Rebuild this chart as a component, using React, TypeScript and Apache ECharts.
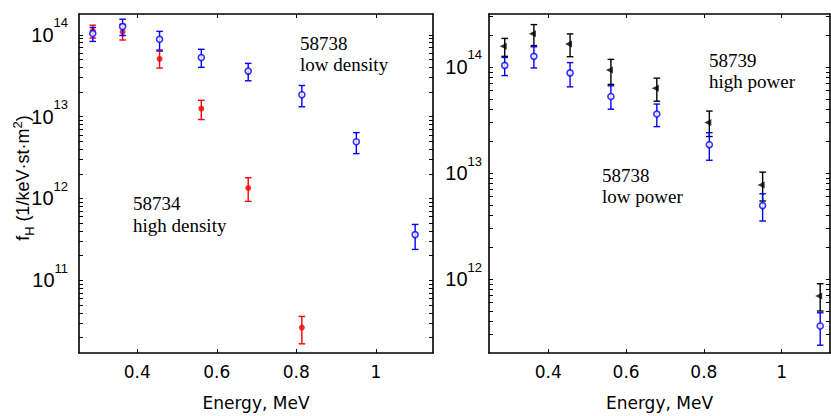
import React, { useEffect, useRef } from "react";
import * as echarts from "echarts";

// ---------- data ----------
const energy = [0.288, 0.363, 0.456, 0.561, 0.679, 0.814, 0.951, 1.099];

// 58734, high density (red, filled dots)
const highDensity = [1.117e14, 1.086e14, 5.08e13, 1.25e13, 1.34e12, 2.64e10];
const highDensityHi = [1.31e14, 1.346e14, 6.28e13, 1.58e13, 1.79e12, 3.61e10];
const highDensityLo = [9.12e13, 8.63e13, 3.92e13, 9.2e12, 9.2e11, 1.67e10];

// 58738, low density / low power (blue, open circles)
const lowDensity = [1.035e14, 1.26e14, 8.8e13, 5.27e13, 3.6e13, 1.85e13, 4.93e12, 3.61e11];
const lowDensityHi = [1.23e14, 1.55e14, 1.1e14, 6.65e13, 4.47e13, 2.4e13, 6.37e12, 4.81e11];
const lowDensityLo = [8.3e13, 9.8e13, 6.5e13, 4.0e13, 2.74e13, 1.32e13, 3.53e12, 2.38e11];

// 58739, high power (black, left triangles)
const highPower = [1.57e14, 2.06e14, 1.65e14, 9.38e13, 6.32e13, 3.0e13, 7.73e12, 6.93e11];
const highPowerHi = [1.86e14, 2.51e14, 2.05e14, 1.18e14, 7.85e13, 3.84e13, 1.02e13, 9.04e11];
const highPowerLo = [1.26e14, 1.59e14, 1.25e14, 6.85e13, 4.76e13, 2.21e13, 5.45e12, 5.0e11];

// axis ticks
const xTickValues = [0.4, 0.6, 0.8, 1.0];
const leftMajor = [1e11, 1e12, 1e13, 1e14];
const rightMajor = [1e12, 1e13, 1e14];
const decades = [1e10, 1e11, 1e12, 1e13, 1e14];
const minorMultipliers = [2, 3, 4, 5, 6, 7, 8, 9];

const leftXRange = [0.2533, 1.1439];
const rightXRange = [0.2476, 1.1242];
const leftYRange = [1.29e10, 1.795e14];
const rightYRange = [2.01e11, 3.16e14];

function allTicks(range: number[]) {
  const out: number[] = [];
  decades.forEach((d) => {
    if (d >= range[0] && d <= range[1]) out.push(d);
    minorMultipliers.forEach((m) => {
      const v = d * m;
      if (v >= range[0] && v <= range[1]) out.push(v);
    });
  });
  return out;
}

const GRIDS = [
  { left: 79, top: 14, width: 354, height: 343 },
  { left: 489, top: 14, width: 341, height: 343 },
];

const axisLine = { show: true, onZero: false, lineStyle: { color: "#000", width: 1.6 } };

function xAxis(gridIndex: number, range: number[], bottom: boolean) {
  return {
    type: "value",
    gridIndex,
    min: range[0],
    max: range[1],
    position: bottom ? "bottom" : "top",
    axisLine,
    axisTick: {
      show: true,
      inside: true,
      length: 4,
      customValues: xTickValues,
      lineStyle: { color: "#000", width: 1 },
    },
    axisLabel: {
      show: bottom,
      customValues: xTickValues,
      formatter: (v: number) => String(Math.round(v * 10) / 10),
      margin: 10,
      fontSize: 17,
      fontFamily: "DejaVu Sans",
      color: "#000",
    },
    splitLine: { show: false },
    name: bottom ? "Energy, MeV" : "",
    nameLocation: "middle",
    nameGap: 41,
    nameTextStyle: { fontSize: 17, fontFamily: "DejaVu Sans", color: "#000" },
  };
}

function yAxis(gridIndex: number, range: number[], majors: number[], left: boolean, margin: number) {
  return {
    type: "log",
    logBase: 10,
    gridIndex,
    min: range[0],
    max: range[1],
    position: left ? "left" : "right",
    axisLine,
    axisTick: {
      show: true,
      inside: true,
      length: 4,
      customValues: allTicks(range),
      lineStyle: { color: "#000", width: 1 },
    },
    axisLabel: {
      show: left,
      customValues: majors,
      margin,
      formatter: (v: number) => `{b|10}{s|${Math.round(Math.log10(v))}}`,
      rich: {
        b: { fontSize: 20, fontFamily: "Liberation Sans", color: "#000" },
        s: { fontSize: 13, fontFamily: "Liberation Sans", color: "#000", padding: [0, 0, 24, 0] },
      },
    },
    splitLine: { show: false },
    minorTick: { show: false },
  };
}

function errorSeries(
  xi: number,
  yi: number,
  xs: number[],
  lo: number[],
  hi: number[],
  color: string,
  z: number
) {
  return {
    type: "custom",
    xAxisIndex: xi,
    yAxisIndex: yi,
    z,
    clip: false,
    encode: { x: 0, y: [1, 2] },
    data: lo.map((l, i) => [xs[i], l, hi[i]]),
    renderItem: (params: any, api: any) => {
      const x = api.value(0);
      const p1 = api.coord([x, api.value(1)]);
      const p2 = api.coord([x, api.value(2)]);
      const w = 3.3;
      const st = { stroke: color, lineWidth: 1.4 };
      return {
        type: "group",
        children: [
          { type: "line", shape: { x1: p1[0], y1: p1[1], x2: p2[0], y2: p2[1] }, style: st },
          { type: "line", shape: { x1: p1[0] - w, y1: p1[1], x2: p1[0] + w, y2: p1[1] }, style: st },
          { type: "line", shape: { x1: p2[0] - w, y1: p2[1], x2: p2[0] + w, y2: p2[1] }, style: st },
        ],
      };
    },
  };
}

function pointSeries(xi: number, yi: number, xs: number[], ys: number[], style: any, z: number) {
  return {
    type: "scatter",
    xAxisIndex: xi,
    yAxisIndex: yi,
    z,
    data: ys.map((v, i) => [xs[i], v]),
    ...style,
  };
}

const serif = "Liberation Serif";
function note(x: number, y: number, text: string) {
  return {
    type: "text",
    x,
    y,
    style: {
      text,
      fontFamily: serif,
      fontSize: 19,
      fill: "#000",
      align: "left",
      verticalAlign: "middle",
    },
  };
}

export default function App() {
  const ref = useRef<HTMLDivElement>(null);
  useEffect(() => {
    if (!ref.current) return;
    const chart = echarts.init(ref.current, null, { renderer: "svg" });
    const redDot = {
      symbol: "circle",
      symbolSize: 6,
      itemStyle: { color: "#ff0000" },
    };
    const blueRing = {
      symbol: "circle",
      symbolSize: 6,
      itemStyle: { color: "#fff", borderColor: "#0000ff", borderWidth: 1.6 },
    };
    const blackTri = {
      symbol: "triangle",
      symbolSize: 7,
      symbolRotate: 90,
      symbolOffset: [-1.5, 0],
      itemStyle: { color: "#000" },
    };
    chart.setOption({
      animation: false,
      backgroundColor: "#fff",
      grid: GRIDS.map((g) => ({ ...g, containLabel: false })),
      xAxis: [
        xAxis(0, leftXRange, true),
        xAxis(0, leftXRange, false),
        xAxis(1, rightXRange, true),
        xAxis(1, rightXRange, false),
      ],
      yAxis: [
        yAxis(0, leftYRange, leftMajor, true, 11),
        yAxis(0, leftYRange, leftMajor, false, 8),
        yAxis(1, rightYRange, rightMajor, true, 7),
        yAxis(1, rightYRange, rightMajor, false, 8),
      ],
      series: [
        errorSeries(0, 0, energy, highDensityLo, highDensityHi, "#ff0000", 2),
        pointSeries(0, 0, energy, highDensity, redDot, 3),
        errorSeries(0, 0, energy, lowDensityLo, lowDensityHi, "#0000ff", 4),
        pointSeries(0, 0, energy, lowDensity, blueRing, 5),
        errorSeries(2, 2, energy, highPowerLo, highPowerHi, "#000000", 2),
        pointSeries(2, 2, energy, highPower, blackTri, 3),
        errorSeries(2, 2, energy, lowDensityLo, lowDensityHi, "#0000ff", 4),
        pointSeries(2, 2, energy, lowDensity, blueRing, 5),
      ],
      graphic: [
        note(300, 43, "58738"),
        note(300, 64, "low density"),
        note(133, 203.5, "58734"),
        note(133, 225, "high density"),
        note(709, 60, "58739"),
        note(709, 81, "high power"),
        note(602, 175, "58738"),
        note(602, 196, "low power"),
        {
          type: "text",
          x: 23,
          y: 178,
          rotation: Math.PI / 2,
          style: {
            text: "{n|f}{sub|H}{n| (1/keV·st·m}{sup|2}{n|)}",
            align: "center",
            verticalAlign: "middle",
            rich: {
              n: { fontSize: 18, fontFamily: "Liberation Sans", fill: "#000" },
              sub: { fontSize: 13, fontFamily: "Liberation Sans", fill: "#000", padding: [12, 0, 0, 0] },
              sup: { fontSize: 13, fontFamily: "Liberation Sans", fill: "#000", padding: [0, 0, 12, 0] },
            },
          },
        },
      ],
    });
    return () => chart.dispose();
  }, []);
  return (
    <div
      ref={ref}
      style={{ position: "fixed", left: 0, top: 0, width: 831, height: 416, background: "#fff" }}
    />
  );
}
